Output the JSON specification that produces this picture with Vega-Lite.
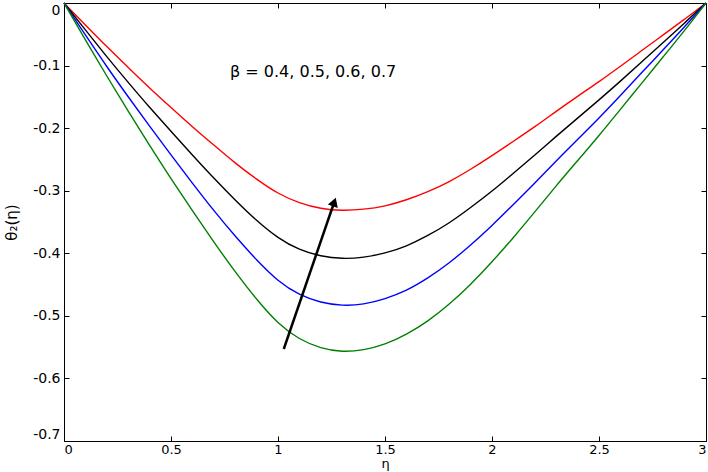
{
  "$schema": "https://vega.github.io/schema/vega-lite/v6.json",
  "width": 642,
  "height": 438,
  "autosize": "none",
  "padding": {"left": 64, "top": 3, "right": 2, "bottom": 31},
  "background": "white",
  "config": {
    "view": {"stroke": null},
    "font": "DejaVu Sans",
    "axis": {
      "grid": false,
      "domainColor": "black",
      "domainWidth": 1,
      "tickColor": "black",
      "tickSize": -5,
      "labelColor": "black",
      "labelFont": "DejaVu Sans",
      "labelFontSize": 14,
      "titleFont": "DejaVu Sans",
      "titleFontSize": 15,
      "titleFontWeight": "normal",
      "titleColor": "black"
    }
  },
  "datasets": {
    "curves": [
      {"eta": 0, "theta": 0, "beta": "0.7"},
      {"eta": 0.1, "theta": -0.035, "beta": "0.7"},
      {"eta": 0.2, "theta": -0.070, "beta": "0.7"},
      {"eta": 0.3, "theta": -0.103, "beta": "0.7"},
      {"eta": 0.4, "theta": -0.136, "beta": "0.7"},
      {"eta": 0.5, "theta": -0.167, "beta": "0.7"},
      {"eta": 0.6, "theta": -0.198, "beta": "0.7"},
      {"eta": 0.7, "theta": -0.227, "beta": "0.7"},
      {"eta": 0.8, "theta": -0.256, "beta": "0.7"},
      {"eta": 0.9, "theta": -0.282, "beta": "0.7"},
      {"eta": 1.0, "theta": -0.305, "beta": "0.7"},
      {"eta": 1.1, "theta": -0.320, "beta": "0.7"},
      {"eta": 1.2, "theta": -0.329, "beta": "0.7"},
      {"eta": 1.3, "theta": -0.332, "beta": "0.7"},
      {"eta": 1.4, "theta": -0.330, "beta": "0.7"},
      {"eta": 1.5, "theta": -0.325, "beta": "0.7"},
      {"eta": 1.6, "theta": -0.315, "beta": "0.7"},
      {"eta": 1.7, "theta": -0.302, "beta": "0.7"},
      {"eta": 1.8, "theta": -0.286, "beta": "0.7"},
      {"eta": 1.9, "theta": -0.266, "beta": "0.7"},
      {"eta": 2.0, "theta": -0.244, "beta": "0.7"},
      {"eta": 2.1, "theta": -0.221, "beta": "0.7"},
      {"eta": 2.2, "theta": -0.198, "beta": "0.7"},
      {"eta": 2.3, "theta": -0.173, "beta": "0.7"},
      {"eta": 2.4, "theta": -0.149, "beta": "0.7"},
      {"eta": 2.5, "theta": -0.126, "beta": "0.7"},
      {"eta": 2.6, "theta": -0.101, "beta": "0.7"},
      {"eta": 2.7, "theta": -0.076, "beta": "0.7"},
      {"eta": 2.8, "theta": -0.051, "beta": "0.7"},
      {"eta": 2.9, "theta": -0.026, "beta": "0.7"},
      {"eta": 3.0, "theta": 0, "beta": "0.7"},

      {"eta": 0, "theta": 0, "beta": "0.6"},
      {"eta": 0.1, "theta": -0.043, "beta": "0.6"},
      {"eta": 0.2, "theta": -0.086, "beta": "0.6"},
      {"eta": 0.3, "theta": -0.127, "beta": "0.6"},
      {"eta": 0.4, "theta": -0.167, "beta": "0.6"},
      {"eta": 0.5, "theta": -0.205, "beta": "0.6"},
      {"eta": 0.6, "theta": -0.243, "beta": "0.6"},
      {"eta": 0.7, "theta": -0.280, "beta": "0.6"},
      {"eta": 0.8, "theta": -0.315, "beta": "0.6"},
      {"eta": 0.9, "theta": -0.348, "beta": "0.6"},
      {"eta": 1.0, "theta": -0.376, "beta": "0.6"},
      {"eta": 1.1, "theta": -0.395, "beta": "0.6"},
      {"eta": 1.2, "theta": -0.405, "beta": "0.6"},
      {"eta": 1.3, "theta": -0.409, "beta": "0.6"},
      {"eta": 1.4, "theta": -0.407, "beta": "0.6"},
      {"eta": 1.5, "theta": -0.400, "beta": "0.6"},
      {"eta": 1.6, "theta": -0.389, "beta": "0.6"},
      {"eta": 1.7, "theta": -0.372, "beta": "0.6"},
      {"eta": 1.8, "theta": -0.352, "beta": "0.6"},
      {"eta": 1.9, "theta": -0.327, "beta": "0.6"},
      {"eta": 2.0, "theta": -0.301, "beta": "0.6"},
      {"eta": 2.1, "theta": -0.272, "beta": "0.6"},
      {"eta": 2.2, "theta": -0.243, "beta": "0.6"},
      {"eta": 2.3, "theta": -0.213, "beta": "0.6"},
      {"eta": 2.4, "theta": -0.184, "beta": "0.6"},
      {"eta": 2.5, "theta": -0.155, "beta": "0.6"},
      {"eta": 2.6, "theta": -0.125, "beta": "0.6"},
      {"eta": 2.7, "theta": -0.094, "beta": "0.6"},
      {"eta": 2.8, "theta": -0.063, "beta": "0.6"},
      {"eta": 2.9, "theta": -0.032, "beta": "0.6"},
      {"eta": 3.0, "theta": 0, "beta": "0.6"},

      {"eta": 0, "theta": 0, "beta": "0.5"},
      {"eta": 0.1, "theta": -0.051, "beta": "0.5"},
      {"eta": 0.2, "theta": -0.102, "beta": "0.5"},
      {"eta": 0.3, "theta": -0.150, "beta": "0.5"},
      {"eta": 0.4, "theta": -0.197, "beta": "0.5"},
      {"eta": 0.5, "theta": -0.243, "beta": "0.5"},
      {"eta": 0.6, "theta": -0.288, "beta": "0.5"},
      {"eta": 0.7, "theta": -0.332, "beta": "0.5"},
      {"eta": 0.8, "theta": -0.373, "beta": "0.5"},
      {"eta": 0.9, "theta": -0.411, "beta": "0.5"},
      {"eta": 1.0, "theta": -0.445, "beta": "0.5"},
      {"eta": 1.1, "theta": -0.467, "beta": "0.5"},
      {"eta": 1.2, "theta": -0.479, "beta": "0.5"},
      {"eta": 1.3, "theta": -0.484, "beta": "0.5"},
      {"eta": 1.4, "theta": -0.482, "beta": "0.5"},
      {"eta": 1.5, "theta": -0.473, "beta": "0.5"},
      {"eta": 1.6, "theta": -0.460, "beta": "0.5"},
      {"eta": 1.7, "theta": -0.440, "beta": "0.5"},
      {"eta": 1.8, "theta": -0.416, "beta": "0.5"},
      {"eta": 1.9, "theta": -0.387, "beta": "0.5"},
      {"eta": 2.0, "theta": -0.356, "beta": "0.5"},
      {"eta": 2.1, "theta": -0.322, "beta": "0.5"},
      {"eta": 2.2, "theta": -0.288, "beta": "0.5"},
      {"eta": 2.3, "theta": -0.252, "beta": "0.5"},
      {"eta": 2.4, "theta": -0.218, "beta": "0.5"},
      {"eta": 2.5, "theta": -0.184, "beta": "0.5"},
      {"eta": 2.6, "theta": -0.148, "beta": "0.5"},
      {"eta": 2.7, "theta": -0.111, "beta": "0.5"},
      {"eta": 2.8, "theta": -0.075, "beta": "0.5"},
      {"eta": 2.9, "theta": -0.038, "beta": "0.5"},
      {"eta": 3.0, "theta": 0, "beta": "0.5"},

      {"eta": 0, "theta": 0, "beta": "0.4"},
      {"eta": 0.1, "theta": -0.059, "beta": "0.4"},
      {"eta": 0.2, "theta": -0.117, "beta": "0.4"},
      {"eta": 0.3, "theta": -0.173, "beta": "0.4"},
      {"eta": 0.4, "theta": -0.228, "beta": "0.4"},
      {"eta": 0.5, "theta": -0.281, "beta": "0.4"},
      {"eta": 0.6, "theta": -0.332, "beta": "0.4"},
      {"eta": 0.7, "theta": -0.382, "beta": "0.4"},
      {"eta": 0.8, "theta": -0.430, "beta": "0.4"},
      {"eta": 0.9, "theta": -0.474, "beta": "0.4"},
      {"eta": 1.0, "theta": -0.513, "beta": "0.4"},
      {"eta": 1.1, "theta": -0.538, "beta": "0.4"},
      {"eta": 1.2, "theta": -0.552, "beta": "0.4"},
      {"eta": 1.3, "theta": -0.558, "beta": "0.4"},
      {"eta": 1.4, "theta": -0.555, "beta": "0.4"},
      {"eta": 1.5, "theta": -0.546, "beta": "0.4"},
      {"eta": 1.6, "theta": -0.530, "beta": "0.4"},
      {"eta": 1.7, "theta": -0.509, "beta": "0.4"},
      {"eta": 1.8, "theta": -0.482, "beta": "0.4"},
      {"eta": 1.9, "theta": -0.450, "beta": "0.4"},
      {"eta": 2.0, "theta": -0.414, "beta": "0.4"},
      {"eta": 2.1, "theta": -0.375, "beta": "0.4"},
      {"eta": 2.2, "theta": -0.334, "beta": "0.4"},
      {"eta": 2.3, "theta": -0.292, "beta": "0.4"},
      {"eta": 2.4, "theta": -0.252, "beta": "0.4"},
      {"eta": 2.5, "theta": -0.212, "beta": "0.4"},
      {"eta": 2.6, "theta": -0.170, "beta": "0.4"},
      {"eta": 2.7, "theta": -0.128, "beta": "0.4"},
      {"eta": 2.8, "theta": -0.086, "beta": "0.4"},
      {"eta": 2.9, "theta": -0.044, "beta": "0.4"},
      {"eta": 3.0, "theta": 0, "beta": "0.4"}
    ],
    "arrow": [
      {"x1": 1.027, "y1": -0.553, "x2": 1.263, "y2": -0.318}
    ],
    "label": [
      {"eta": 0.776, "theta": -0.11, "text": "β = 0.4, 0.5, 0.6, 0.7"}
    ]
  },
  "layer": [
    {
      "data": {"name": "curves"},
      "mark": {"type": "line", "strokeWidth": 1.4, "interpolate": "basis"},
      "encoding": {
        "x": {
          "field": "eta", "type": "quantitative",
          "scale": {"domain": [0, 3], "nice": false, "zero": false},
          "axis": {
            "orient": "bottom",
            "values": [0, 0.5, 1, 1.5, 2, 2.5, 3],
            "labelExpr": "format(datum.value, '~g')",
            "labelFontSize": 13,
            "labelPadding": 7,
            "title": "η",
            "titleFontSize": 13,
            "titlePadding": 1
          }
        },
        "y": {
          "field": "theta", "type": "quantitative",
          "scale": {"domain": [-0.7, 0], "nice": false, "zero": false},
          "axis": {
            "orient": "left",
            "values": [-0.7, -0.6, -0.5, -0.4, -0.3, -0.2, -0.1, 0],
            "labelExpr": "datum.value == 0 ? '0' : '-' + format(abs(datum.value), '.1f')",
            "labelPadding": 9,
            "labelFlush": true,
            "title": "θ₂(η)",
            "titlePadding": 13
          }
        },
        "color": {
          "field": "beta", "type": "nominal",
          "scale": {"domain": ["0.4", "0.5", "0.6", "0.7"], "range": ["#008000", "#0000ff", "#000000", "#ff0000"]},
          "legend": null
        }
      }
    },
    {
      "data": {"name": "curves"},
      "mark": {"type": "point", "opacity": 0},
      "encoding": {
        "x": {
          "field": "eta", "type": "quantitative",
          "axis": {"orient": "top", "values": [0, 0.5, 1, 1.5, 2, 2.5, 3], "labels": false, "title": null}
        },
        "y": {
          "field": "theta", "type": "quantitative",
          "axis": {"orient": "right", "values": [-0.7, -0.6, -0.5, -0.4, -0.3, -0.2, -0.1, 0], "labels": false, "title": null}
        }
      }
    },
    {
      "data": {"name": "arrow"},
      "mark": {"type": "rule", "color": "black", "strokeWidth": 2.5},
      "encoding": {
        "x": {"field": "x1", "type": "quantitative", "axis": null},
        "y": {"field": "y1", "type": "quantitative", "axis": null},
        "x2": {"field": "x2"},
        "y2": {"field": "y2"}
      }
    },
    {
      "data": {"name": "arrow"},
      "mark": {"type": "point", "shape": "triangle-up", "filled": true, "color": "black", "opacity": 1, "size": 110, "angle": 19},
      "encoding": {
        "x": {"field": "x2", "type": "quantitative", "axis": null},
        "y": {"field": "y2", "type": "quantitative", "axis": null}
      }
    },
    {
      "data": {"name": "label"},
      "mark": {"type": "text", "align": "left", "baseline": "middle", "fontSize": 16, "font": "DejaVu Sans", "color": "black"},
      "encoding": {
        "x": {"field": "eta", "type": "quantitative", "axis": null},
        "y": {"field": "theta", "type": "quantitative", "axis": null},
        "text": {"field": "text"}
      }
    }
  ],
  "resolve": {"axis": {"x": "independent", "y": "independent"}}
}
